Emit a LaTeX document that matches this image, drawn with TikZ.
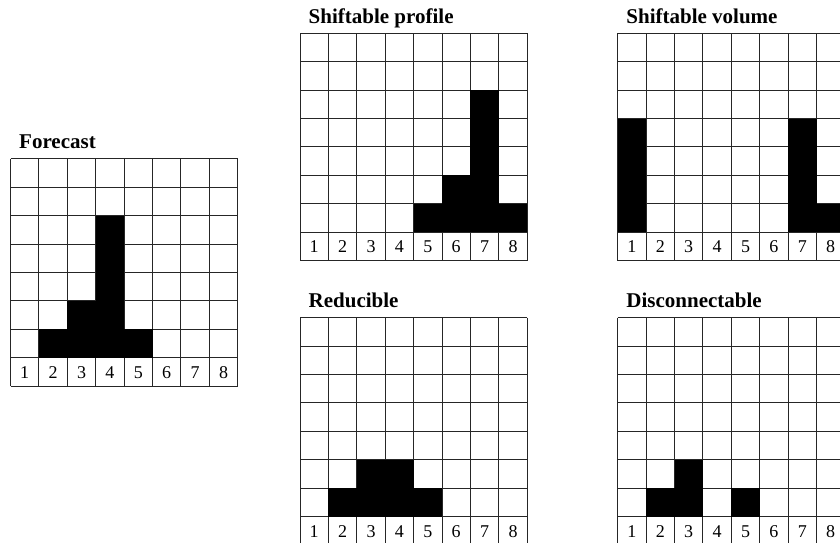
\documentclass[tikz,border=0pt]{standalone}
\usepackage{fontspec}
\setmainfont{Liberation Serif}
\tikzset{
  cellline/.style={draw=black!85, line width=0.9pt},
  barfill/.style={fill=black},
  titletext/.style={anchor=base west, inner sep=0pt, font=\fontsize{21}{24}\selectfont\bfseries},
  numtext/.style={inner sep=0pt, font=\fontsize{18}{20}\selectfont},
}
\newcommand\drawprofile[5]{%
  \begin{scope}[shift={(#2,#3)}]
    \node[titletext] (#1-title) at (8.5,-10) {#4};
    \foreach \i in {0,...,8} {
      \draw[cellline] (\i*28.4,0) -- (\i*28.4,227.2);
      \draw[cellline] (0,\i*28.4) -- (227.2,\i*28.4);
    }
    \foreach \h [count=\c] in {#5} {
      \ifnum\h>0
        \fill[barfill] (\c*28.4-28.4,198.8) rectangle (\c*28.4,198.8-\h*28.4);
      \fi
    }
    \foreach \c in {1,...,8} {
      \node[numtext] (#1-n\c) at (\c*28.4-14.2,213.6) {\c};
    }
  \end{scope}
}
\begin{document}
\begin{tikzpicture}[x=1pt,y=-1pt]
  \useasboundingbox (0,0) rectangle (840,543);
  \clip (0,0) rectangle (840,543);
  \fill[white] (0,0) rectangle (840,543);
  \drawprofile{fc}{10.5}{158.8}{Forecast}{0,1,2,5,1,0,0,0}
  \drawprofile{sp}{300}{33.3}{Shiftable profile}{0,0,0,0,1,2,5,1}
  \drawprofile{sv}{617.7}{33.3}{Shiftable volume}{4,0,0,0,0,0,4,1}
  \drawprofile{rd}{300}{317.7}{Reducible}{0,1,2,2,1,0,0,0}
  \drawprofile{dc}{617.7}{317.7}{Disconnectable}{0,1,2,0,1,0,0,0}
\end{tikzpicture}
\end{document}
